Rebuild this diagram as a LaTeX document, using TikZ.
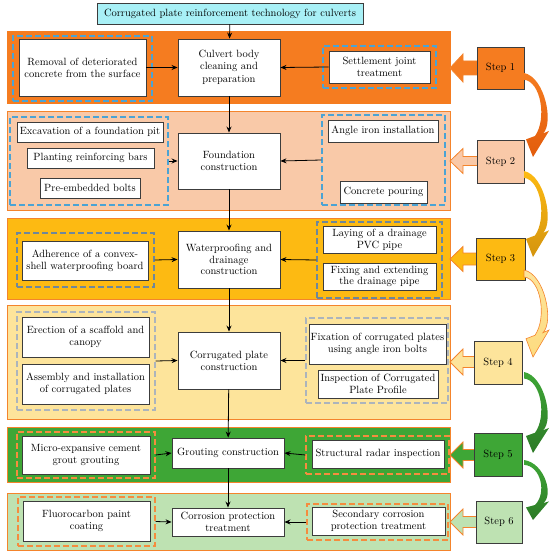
\documentclass[tikz,border=0pt]{standalone}
\usetikzlibrary{arrows.meta}
\definecolor{titlecyan}{RGB}{168,240,246}
\definecolor{bandA}{RGB}{245,124,32}
\definecolor{bandB}{RGB}{249,201,168}
\definecolor{bandC}{RGB}{253,186,18}
\definecolor{bandD}{RGB}{253,228,155}
\definecolor{bandE}{RGB}{62,166,54}
\definecolor{bandF}{RGB}{190,226,178}
\definecolor{bordorange}{RGB}{244,132,44}
\definecolor{boxgray}{RGB}{60,60,60}
\definecolor{dashblue}{RGB}{75,163,212}
\definecolor{dashslate}{RGB}{110,135,155}
\definecolor{dashgray}{RGB}{172,180,188}
\definecolor{dashorange}{RGB}{245,140,62}
\definecolor{darkorange}{RGB}{226,92,12}
\definecolor{darkgold}{RGB}{212,148,14}
\definecolor{darkgreen}{RGB}{44,122,38}
\newcommand\myfs{\fontsize{10.5}{11.8}\selectfont}
\newcommand\rnode[7]{%
  \pgfmathsetmacro\rcx{(#3+#5)/2}\pgfmathsetmacro\rcy{(#4+#6)/2}%
  \pgfmathsetmacro\rww{#5-#3}\pgfmathsetmacro\rhh{#6-#4}%
  \node[#1, minimum width=\rww pt, minimum height=\rhh pt] (#2) at (\rcx,\rcy) {#7};}
\newcommand\steparrow[4]{%
  \filldraw[draw=bordorange, fill=#2, line width=0.8pt, line join=miter]
    (482,{#1-#4}) -- (463,{#1-#4}) -- (463,{#1-#3}) -- (450,#1) -- (463,{#1+#3})
    -- (463,{#1+#4}) -- (482,{#1+#4});}
\newcommand\curvarr[3]{%
  \pgfmathsetmacro\chh{#2-#1}%
  \path[#3] (524,#1) .. controls (545,{#1+0.05*\chh}) and (554,{#1+0.6*\chh}) ..
    (543,{#1+0.72*\chh}) -- (549,{#1+0.69*\chh}) -- (533,#2) -- (526,{#1+0.79*\chh})
    -- (535,{#1+0.75*\chh}) .. controls (547,{#1+0.55*\chh}) and (541,{#1+0.1*\chh}) ..
    (524,{#1+0.08*\chh}) -- cycle;}
\begin{document}
\begin{tikzpicture}[x=1pt,y=-1pt,
  box/.style={draw=boxgray, fill=white, line width=0.9pt, align=center, inner sep=0pt, font=\myfs},
  band/.style={draw=bordorange, line width=1pt, inner sep=0pt},
  dbox/.style={draw=#1, dash pattern=on 6pt off 3pt, line width=1.1pt, inner sep=0pt},
  stepbox/.style={draw=boxgray, line width=0.9pt, align=center, inner sep=0pt, font=\myfs},
  conn/.style={-{Stealth[length=6pt,width=5pt]}, line width=0.8pt, black}]
\useasboundingbox (0,0) rectangle (550,556);
% bands
\rnode{band,fill=bandA,draw=bandA}{bandA}{7}{32}{450}{104}{}
\rnode{band,fill=bandB}{bandB}{7}{112}{450}{210}{}
\rnode{band,fill=bandC}{bandC}{7}{218}{450}{299}{}
\rnode{band,fill=bandD}{bandD}{7}{305}{450}{419}{}
\rnode{band,fill=bandE}{bandE}{7}{427}{450}{482}{}
\rnode{band,fill=bandF}{bandF}{7}{493}{450}{550}{}
% title
\rnode{box,fill=titlecyan}{title}{97}{3}{363}{24}{Corrugated plate reinforcement technology for culverts}
% band 1
\rnode{dbox=dashblue}{dA}{13}{36}{152}{101}{}
\rnode{box}{bA}{19}{39}{146}{96}{Removal of deteriorated\\concrete from the surface}
\rnode{box}{cA}{178}{39}{280}{96}{Culvert body\\cleaning and\\[2pt]preparation}
\rnode{dbox=dashblue}{dAr}{323}{46}{436}{88}{}
\rnode{box}{bAr}{329}{51}{430}{83}{Settlement joint\\treatment}
% band 2
\rnode{dbox=dashblue}{dB}{10}{117}{168}{205}{}
\rnode{box}{bB1}{17}{122}{163}{142}{Excavation of a foundation pit}
\rnode{box}{bB2}{27}{148}{154}{168}{Planting reinforcing bars}
\rnode{box}{bB3}{40}{178}{140}{198}{Pre-embedded bolts}
\rnode{box}{cB}{178}{133}{280}{189}{Foundation\\construction}
\rnode{dbox=dashblue}{dBr}{322}{115}{445}{205}{}
\rnode{box}{bB4}{328}{120}{438}{142}{Angle iron installation}
\rnode{box}{bB5}{340}{181}{427}{203}{Concrete pouring}
% band 3
\rnode{dbox=dashslate}{dC}{17}{233}{154}{287}{}
\rnode{box}{bC}{22}{241}{148}{280}{Adherence of a convex-\\shell waterproofing board}
\rnode{box}{cC}{178}{231}{280}{288}{Waterproofing and\\drainage\\construction}
\rnode{dbox=dashslate}{dCr}{317}{222}{442}{298}{}
\rnode{box}{bC1}{323}{226}{436}{253}{Laying of a drainage\\PVC pipe}
\rnode{box}{bC2}{323}{263}{436}{290}{Fixing and extending\\the drainage pipe}
% band 4
\rnode{dbox=dashgray}{dD}{17}{312}{155}{410}{}
\rnode{box}{bD1}{22}{317}{149}{357}{Erection of a scaffold and\\canopy}
\rnode{box}{bD2}{22}{364}{149}{404}{Assembly and installation\\of corrugated plates}
\rnode{box}{cD}{178}{332}{280}{389}{Corrugated plate\\construction}
\rnode{dbox=dashgray}{dDr}{306}{318}{448}{403}{}
\rnode{box}{bD3}{309}{324}{446}{364}{Fixation of corrugated plates\\using angle iron bolts}
\rnode{box}{bD4}{318}{370}{438}{398}{Inspection of Corrugated\\Plate Profile}
% band 5
\rnode{dbox=dashorange}{dE}{17}{432}{155}{478}{}
\rnode{box}{bE}{22}{436}{150}{474}{Micro-expansive cement\\grout grouting}
\rnode{box}{cE}{172}{438}{284}{468}{Grouting construction}
\rnode{dbox=dashorange}{dEr}{306}{436}{449}{474}{}
\rnode{box}{bEr}{312}{440}{444}{468}{Structural radar inspection}
% band 6
\rnode{dbox=dashorange}{dF}{18}{497}{155}{546}{}
\rnode{box}{bF}{23}{501}{150}{541}{Fluorocarbon paint\\coating}
\rnode{box}{cF}{172}{508}{284}{536}{Corrosion protection\\treatment}
\rnode{dbox=dashorange}{dFr}{307}{504}{448}{540}{}
\rnode{box}{bFr}{312}{507}{445}{535}{Secondary corrosion\\protection treatment}
% vertical connectors
\draw[conn] (title) -- (cA);
\draw[conn] (cA) -- (cB);
\draw[conn] (cB) -- (cC);
\draw[conn] (cC) -- (cD);
\draw[conn] (cD) -- (cE);
\draw[conn] (cE) -- (cF);
% horizontal connectors
\draw[conn] (bA.east) -- (cA.west);
\draw[conn] (bAr.west) -- (cA.east);
\draw[conn] (dB.east) -- (cB.west);
\draw[conn] (dBr.west) -- (cB.east);
\draw[conn] (dC.east) -- (cC.west);
\draw[conn] (dCr.west) -- (cC.east);
\draw[conn] (dD.east) -- (cD.west);
\draw[conn] (dDr.west) -- (cD.east);
\draw[conn] (dE.east) -- (cE.west);
\draw[conn] (dEr.west) -- (cE.east);
\draw[conn] (dF.east) -- (cF.west);
\draw[conn] (dFr.west) -- (cF.east);
% step arrows
\steparrow{68}{bandA}{14}{7}
\steparrow{161}{bandB}{12.5}{4.5}
\steparrow{259}{bandC}{12.5}{6}
\steparrow{362}{bandD}{13}{5.5}
\steparrow{455}{bandE}{13}{5.5}
\steparrow{522}{bandF}{13}{5.5}
% steps
\rnode{stepbox,fill=bandA}{s1}{477}{47}{524}{89}{Step 1}
\rnode{stepbox,fill=bandB}{s2}{477}{140}{524}{183}{Step 2}
\rnode{stepbox,fill=bandC}{s3}{476}{238}{525}{280}{Step 3}
\rnode{stepbox,fill=bandD}{s4}{474}{341}{522}{384}{Step 4}
\rnode{stepbox,fill=bandE}{s5}{474}{433}{522}{476}{Step 5}
\rnode{stepbox,fill=bandF}{s6}{476}{501}{522}{543}{Step 6}
% curved arrows
\curvarr{73}{157}{top color=bandA, bottom color=darkorange}
\curvarr{171}{257}{top color=bandC, bottom color=darkgold}
\curvarr{270}{357}{top color=bandD, bottom color=bandD!80!bandC, draw=bordorange, line width=0.6pt}
\curvarr{372}{453}{top color=bandE, bottom color=darkgreen}
\curvarr{460}{520}{top color=bandE, bottom color=darkgreen}
\end{tikzpicture}
\end{document}
